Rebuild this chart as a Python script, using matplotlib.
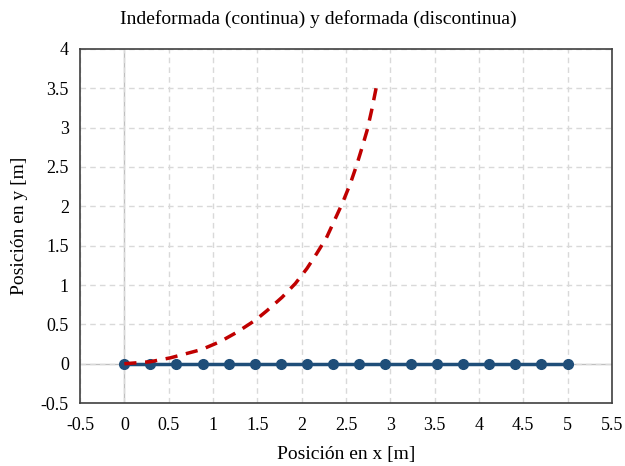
import numpy as np
import matplotlib
matplotlib.use("Agg")
import matplotlib.pyplot as plt

plt.rcParams['font.family'] = ['Liberation Serif', 'DejaVu Serif']

# undeformed beam nodes (18 nodes over 5 m)
x_undef = [0, 0.294, 0.588, 0.882, 1.176, 1.471, 1.765, 2.059, 2.353,
           2.647, 2.941, 3.235, 3.529, 3.824, 4.118, 4.412, 4.706, 5.0]
y_undef = [0] * 18

# deformed shape
x_def = [0, 0.29, 0.52, 0.87, 1.08, 1.27, 1.48, 1.61, 1.78, 1.93, 2.06,
         2.17, 2.28, 2.37, 2.46, 2.55, 2.62, 2.68, 2.74, 2.79, 2.84]
y_def = [0, 0.025, 0.075, 0.18, 0.28, 0.40, 0.555, 0.675, 0.845, 1.02, 1.21,
         1.40, 1.60, 1.82, 2.04, 2.29, 2.52, 2.74, 2.97, 3.22, 3.50]

xticks = np.arange(-0.5, 5.51, 0.5)
yticks = np.arange(-0.5, 4.01, 0.5)


def fmt(v):
    s = f"{v:g}"
    return "0" if s == "-0" else s


fig = plt.figure(figsize=(6.25, 4.66), dpi=100)
ax = fig.add_axes([0.128, 0.135, 0.851, 0.76])

ax.set_xlim(-0.5, 5.5)
ax.set_ylim(-0.5, 4)
ax.set_xticks(xticks)
ax.set_yticks(yticks)
ax.set_xticklabels([fmt(v) for v in xticks])
ax.set_yticklabels([fmt(v) for v in yticks])
ax.tick_params(axis='x', length=0, labelsize=13, pad=10)
ax.tick_params(axis='y', length=0, labelsize=13, pad=8)

ax.grid(True, ls=(0, (4, 3)), color='#d9d9d9', lw=1)
ax.axhline(0, color='#bfbfbf', lw=1, zorder=1)
ax.axvline(0, color='#bfbfbf', lw=1, zorder=1)
for s in ax.spines.values():
    s.set_color('#404040')
    s.set_linewidth(1.2)

ax.plot(x_undef, y_undef, '-o', color='#1f4e79', lw=2.5, ms=7, zorder=3)
ax.plot(x_def, y_def, '--', color='#c00000', lw=2.5, dashes=(3.5, 2.5), zorder=4)

ax.set_xlabel('Posición en x [m]', fontsize=14, labelpad=9)
ax.set_ylabel('Posición en y [m]', fontsize=14, labelpad=9)
fig.text(0.51, 0.96, 'Indeformada (continua) y deformada (discontinua)',
         ha='center', va='center', fontsize=14)

fig.savefig('out.png', dpi=100)
